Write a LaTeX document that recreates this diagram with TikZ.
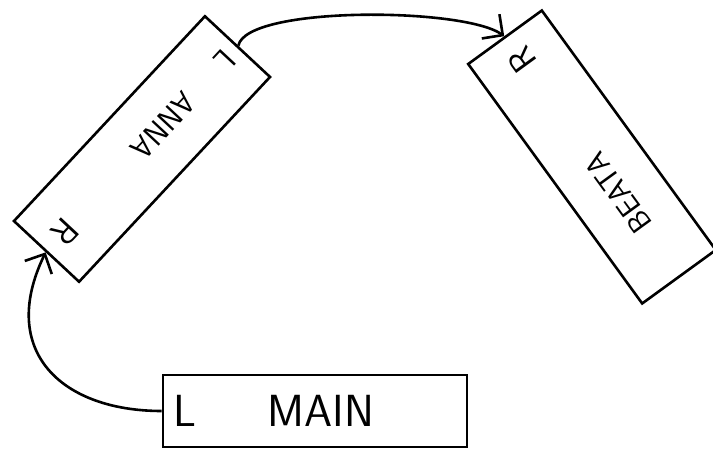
\documentclass[tikz,border=0pt]{standalone}
\usepackage{tikz}
\usetikzlibrary{calc,arrows.meta}

\begin{document}
\begin{tikzpicture}[x=1pt,y=1pt,>={Straight Barb[length=15pt,width=30pt]},
  rec/.style={draw,line width=2.6pt,inner sep=0pt},
  big/.style={font=\sffamily\fontsize{45}{45}\selectfont},
  small/.style={font=\sffamily\fontsize{31}{31}\selectfont}]
\useasboundingbox (0,0) rectangle (713,453);
\node[rec,minimum width=304pt,minimum height=72pt] (main) at (315,42) {};
\node[rec,rotate=-133,minimum width=280pt,minimum height=89pt] (anna) at (142,304) {};
\node[rec,rotate=126,minimum width=296pt,minimum height=91pt] (beata) at (592,296) {};
\node[big] (mainL) at ($(main.west)!0.076!(main.east)$) {L};
\node[big] (mainT) at ($(main.west)!0.52!(main.east)$) {MAIN};
\node[small,rotate=-133] (annaL) at ($(anna.west)!0.07!(anna.east)$) {L};
\node[small,rotate=-133] (annaT) at ($(anna.west)!0.39!(anna.east)$) {ANNA};
\node[small,rotate=-133,scale=1.15] (annaR) at ($(anna.west)!0.9!(anna.east)$) {R};
\node[small,rotate=126] (beataT) at ($(beata.west)!0.35!(beata.east)$) {BEATA};
\node[small,rotate=126,scale=1.15] (beataR) at ($(beata.west)!0.9!(beata.east)$) {R};
\draw[->,line width=2.6pt] (main.west) .. controls +(-100,0) and +(-48,-99) .. (anna.east);
\draw[->,line width=2.6pt] (anna.west) .. controls +(8,40) and +(-40,29) .. (beata.east);
\end{tikzpicture}
\end{document}
